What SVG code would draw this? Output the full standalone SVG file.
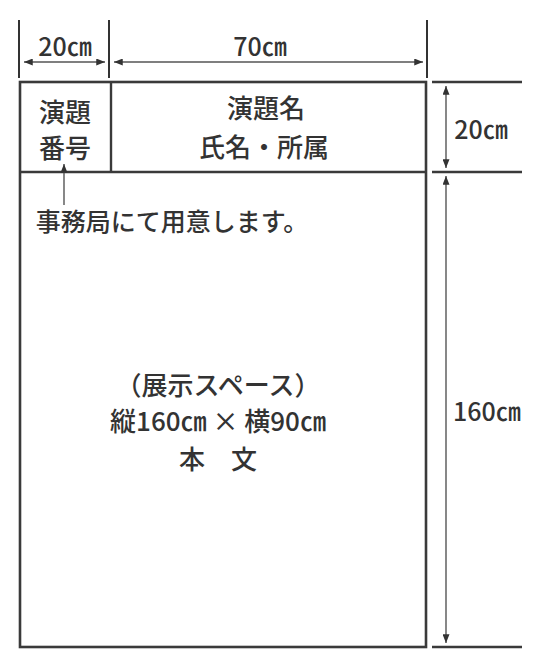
<svg xmlns="http://www.w3.org/2000/svg" width="540" height="667" viewBox="0 0 540 667">
<defs>
<style>
.box{fill:none;stroke:#3a3a3a;stroke-width:2.6}
.ln{stroke:#3a3a3a;stroke-width:2.4;fill:none}
.dim{stroke:#555;stroke-width:1.4;fill:none}
.tick{stroke:#333;stroke-width:2;fill:none}
text{font-family:"Noto Sans CJK JP","Liberation Sans",sans-serif;fill:#333;font-size:25px;font-weight:500;text-anchor:middle;dominant-baseline:central}
.big{font-size:26px}
</style>
<marker id="ah" viewBox="0 0 10 8" refX="10" refY="4" markerWidth="9" markerHeight="7" markerUnits="userSpaceOnUse" orient="auto-start-reverse">
<path d="M0,0 L10,4 L0,8 Z" fill="#333"/>
</marker>
</defs>
<rect width="540" height="667" fill="#fff"/>
<g id="panel">
<rect class="box" x="20" y="82" width="406" height="565"/>
<line class="ln" x1="20" y1="172" x2="426" y2="172"/>
</g>
<g id="number-cell">
<line class="ln" x1="111" y1="82" x2="111" y2="172"/>
<text class="big" x="65" y="110">演題</text>
<text class="big" x="65" y="146">番号</text>
</g>
<g id="title-cell">
<text class="big" x="266" y="106">演題名</text>
<text class="big" x="264" y="145">氏名・所属</text>
</g>
<g id="body">
<text class="big" x="218" y="383">（展示スペース）</text>
<text class="big" x="218" y="419">縦160㎝ × 横90㎝</text>
<text class="big" x="218" y="457">本　文</text>
</g>
<g id="note">
<text x="172" y="220">事務局にて用意します。</text>
</g>
<g id="connectors">
<line class="tick" x1="19" y1="20" x2="19" y2="78"/>
<line class="tick" x1="109" y1="20" x2="109" y2="78"/>
<line class="tick" x1="427" y1="20" x2="427" y2="78"/>
<line class="dim" x1="24" y1="62" x2="105" y2="62" marker-start="url(#ah)" marker-end="url(#ah)"/>
<line class="dim" x1="114" y1="62" x2="423" y2="62" marker-start="url(#ah)" marker-end="url(#ah)"/>
<line class="ln" x1="432" y1="82" x2="522" y2="82"/>
<line class="ln" x1="432" y1="172" x2="522" y2="172"/>
<line class="ln" x1="432" y1="647" x2="522" y2="647"/>
<line class="dim" x1="446" y1="86" x2="446" y2="168" marker-start="url(#ah)" marker-end="url(#ah)"/>
<line class="dim" x1="446" y1="176" x2="446" y2="643" marker-start="url(#ah)" marker-end="url(#ah)"/>
<line class="dim" x1="64" y1="205" x2="64" y2="164" marker-end="url(#ah)"/>
</g>
<g id="labels">
<text x="65" y="45">20㎝</text>
<text x="260" y="45">70㎝</text>
<text x="481" y="128">20㎝</text>
<text x="487" y="410">160㎝</text>
</g>
</svg>
